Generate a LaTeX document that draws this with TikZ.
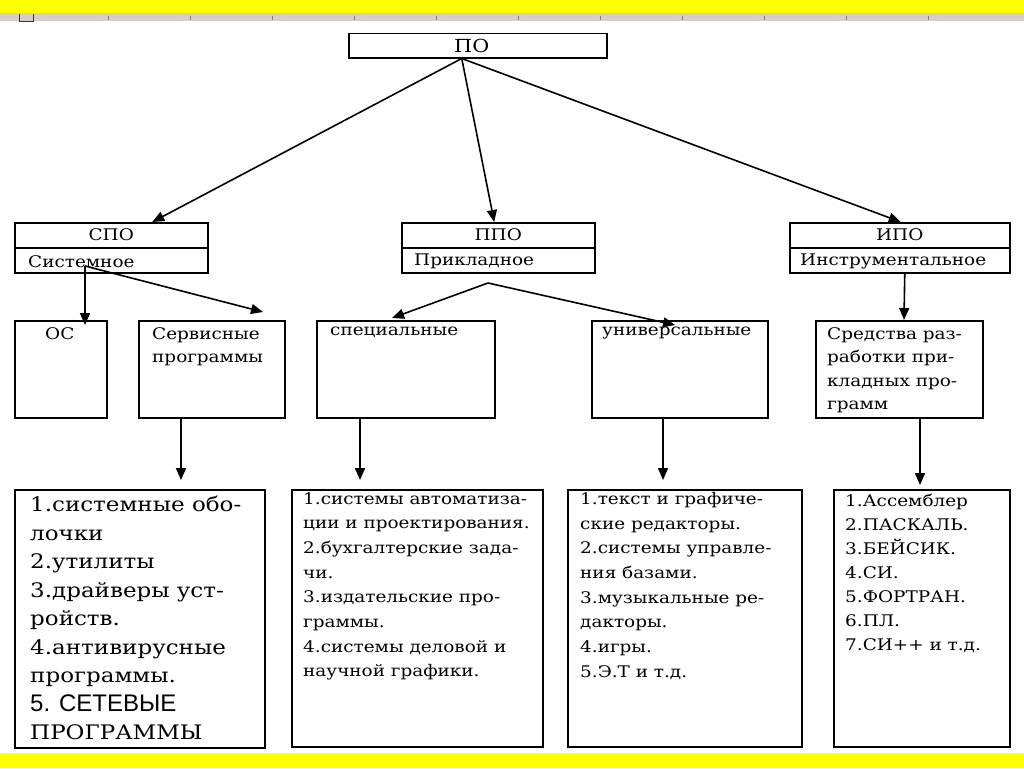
\documentclass[tikz,border=0pt]{standalone}
\usepackage{fontspec}
\setmainfont{DejaVu Serif}[FakeStretch=1.15]
\newfontfamily\sansfnt{Liberation Sans}
\usepackage{tikz}
\usetikzlibrary{calc, arrows.meta}
\definecolor{rulergray}{RGB}{212,208,200}
\definecolor{bandyellow}{RGB}{255,255,0}

\begin{document}
\begin{tikzpicture}[
    x=1pt, y=-1pt,
    box/.style={draw, line width=1.5pt, inner sep=0pt, anchor=north west},
    arr/.style={line width=1.6pt, -{Triangle[length=12pt,width=10pt]}},
    txt/.style={inner sep=0pt, font=\fontsize{16}{24}\selectfont},
    lst/.style={inner sep=0pt, anchor=north west, align=left,
        font=\fontsize{16}{24.7}\selectfont}
]
\useasboundingbox (0,0) rectangle (1024,768);

% window frame
\fill[bandyellow] (0,0) rectangle (1024,13);
\fill[rulergray] (0,13) rectangle (1024,21);
\foreach \i in {0,...,10}
    \draw[gray, line width=0.8pt] (108+82*\i,16) -- (108+82*\i,20);
\draw[black!80, line width=0.8pt] (19,14) -- (19,21) -- (33,21) -- (33,14);
\fill[bandyellow] (0,753) rectangle (1024,768);

% top level
\node[box, minimum width=258pt, minimum height=24pt] (po) at (348,33) {};
\node[txt, font=\fontsize{18}{24}\selectfont] (potxt) at ([xshift=-6pt]po) {ПО};

\node[box, minimum width=193pt, minimum height=50pt] (spo) at (14,222) {};
\node[box, minimum width=193pt, minimum height=50pt] (ppo) at (401,222) {};
\node[box, minimum width=220pt, minimum height=50pt] (ipo) at (789,222) {};

\foreach \b in {spo, ppo, ipo}
    \draw[line width=1.5pt] ([yshift=-26pt]\b.north west) -- ([yshift=-26pt]\b.north east);

\node[txt] (spotxt) at ([yshift=-13pt]spo.north) {СПО};
\node[txt] (ppotxt) at ([yshift=-13pt]ppo.north) {ППО};
\node[txt] (ipotxt) at ([yshift=-13pt]ipo.north) {ИПО};

\node[txt, anchor=west] (sponame) at ([xshift=14pt,yshift=12pt]spo.south west) {Системное};
\node[txt, anchor=west] (pponame) at ([xshift=13pt,yshift=12pt]ppo.south west) {Прикладное};
\node[txt, anchor=west] (iponame) at ([xshift=11pt,yshift=12pt]ipo.south west) {Инструментальное};

% second level
\node[box, minimum width=92pt, minimum height=97pt] (os) at (14,320) {};
\node[box, minimum width=146pt, minimum height=97pt] (serv) at (138,320) {};
\node[box, minimum width=178pt, minimum height=97pt] (spec) at (316,320) {};
\node[box, minimum width=176pt, minimum height=97pt] (univ) at (591,320) {};
\node[box, minimum width=167pt, minimum height=97pt] (sredst) at (815,320) {};

\node[txt, anchor=north] (ostxt) at ([xshift=-1pt,yshift=-7pt]os.north) {ОС};
\node[lst, font=\fontsize{16}{23}\selectfont] (servtxt)
    at ([xshift=14pt,yshift=-7pt]serv.north west) {Сервисные\\программы};
\node[txt, anchor=north west] (spectxt) at ([xshift=14pt,yshift=-7pt]spec.north west) {специальные};
\node[txt, anchor=north west] (univtxt) at ([xshift=11pt,yshift=-7pt]univ.north west) {универсальные};
\node[lst, font=\fontsize{16}{23.5}\selectfont] (sredsttxt)
    at ([xshift=12pt,yshift=-7pt]sredst.north west) {Средства раз-\\работки при-\\кладных про-\\грамм};

% lists
\node[box, minimum width=250pt, minimum height=258pt] (lst1) at (14,489) {};
\node[box, minimum width=251pt, minimum height=257pt] (lst2) at (291,489) {};
\node[box, minimum width=234pt, minimum height=257pt] (lst3) at (567,489) {};
\node[box, minimum width=176pt, minimum height=257pt] (lst4) at (833,489) {};

\node[lst, font=\fontsize{20}{28.5}\selectfont] (lst1txt)
    at ([xshift=16pt,yshift=-7pt]lst1.north west)
    {1.системные обо-\\лочки\\2.утилиты\\3.драйверы уст-\\ройств.\\4.антивирусные\\программы.\\
     {\sansfnt\fontsize{24}{28.5}\selectfont 5. СЕТЕВЫЕ}\\{\fontsize{20}{28.5}\selectfont ПРОГРАММЫ}};
\node[lst] (lst2txt) at ([xshift=12pt,yshift=-3pt]lst2.north west)
    {1.системы автоматиза-\\ции и проектирования.\\2.бухгалтерские зада-\\чи.\\3.издательские про-\\граммы.\\4.системы деловой и\\научной графики.};
\node[lst] (lst3txt) at ([xshift=13pt,yshift=-3pt]lst3.north west)
    {1.текст и графиче-\\ские редакторы.\\2.системы управле-\\ния базами.\\3.музыкальные ре-\\дакторы.\\4.игры.\\5.Э.Т и т.д.};
\node[lst, font=\fontsize{16}{24}\selectfont] (lst4txt) at ([xshift=12pt,yshift=-5pt]lst4.north west)
    {1.Ассемблер\\2.ПАСКАЛЬ.\\3.БЕЙСИК.\\4.СИ.\\5.ФОРТРАН.\\6.ПЛ.\\7.СИ++ и т.д.};

% connectors
\coordinate (pofork) at ([xshift=-16pt]po.south);
\coordinate (spofork) at (85,266);
\coordinate (ppofork) at (488,283);

\draw[arr] (pofork) -- ([xshift=41pt]spo.north);
\draw[arr] (pofork) -- ([xshift=-4pt]ppo.north);
\draw[arr] (pofork) -- ([xshift=1pt]ipo.north);

\draw[arr] (spofork) -- ([xshift=71pt,yshift=-5pt]os.north west);
\draw[arr] (spofork) -- ([xshift=125pt,yshift=8pt]serv.north west);
\draw[arr] (ppofork) -- ([xshift=76pt,yshift=2pt]spec.north west);
\draw[arr] (ppofork) -- ([xshift=84pt,yshift=-5pt]univ.north west);
\draw[arr] ([xshift=5pt]ipo.south) -- ([xshift=89pt]sredst.north west);

\draw[arr] ([xshift=43pt]serv.south west) -- ([xshift=43pt,yshift=9pt]serv.south west |- lst1.north);
\draw[arr] ([xshift=44pt]spec.south west) -- ([xshift=44pt,yshift=9pt]spec.south west |- lst2.north);
\draw[arr] ([xshift=72pt]univ.south west) -- ([xshift=72pt,yshift=9pt]univ.south west |- lst3.north);
\draw[arr] ([xshift=105pt]sredst.south west) -- ([xshift=105pt,yshift=4pt]sredst.south west |- lst4.north);
\end{tikzpicture}
\end{document}
